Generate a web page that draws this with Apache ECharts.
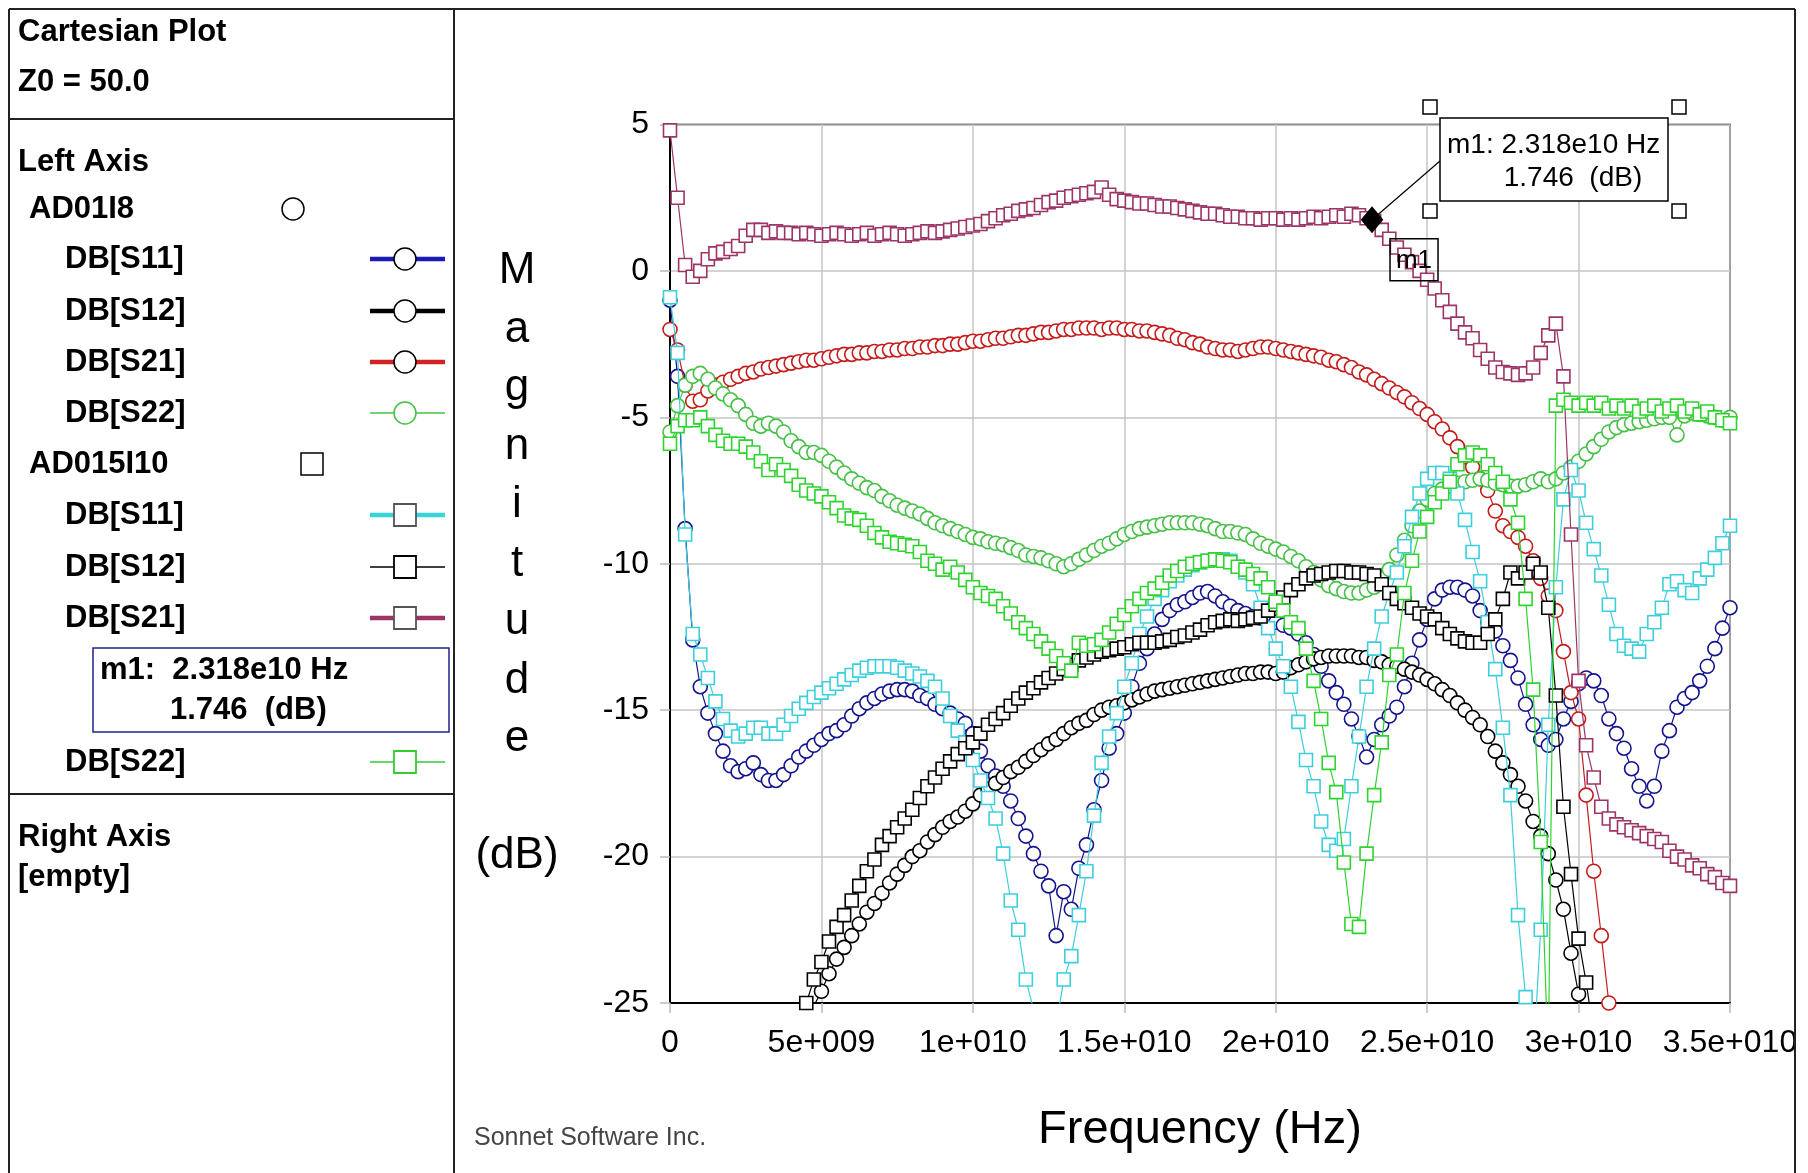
<!DOCTYPE html>
<html><head><meta charset="utf-8">
<script src="https://cdn.jsdelivr.net/npm/echarts@6/dist/echarts.min.js"></script>
<style>html,body{margin:0;padding:0;background:#fff;}#c{width:1808px;height:1173px;}</style>
</head><body><div id="c"></div>
<script>
// ---------------- DATA ----------------
const FREQ_GHZ = [
0,0.25,0.5,0.75,1,1.25,1.5,1.75,2,2.25,2.5,2.75,3,3.25,3.5,3.75,4,4.25,4.5,4.75,
5,5.25,5.5,5.75,6,6.25,6.5,6.75,7,7.25,7.5,7.75,8,8.25,8.5,8.75,9,9.25,9.5,9.75,
10,10.25,10.5,10.75,11,11.25,11.5,11.75,12,12.25,12.5,12.75,13,13.25,13.5,13.75,14,14.25,14.5,14.75,
15,15.25,15.5,15.75,16,16.25,16.5,16.75,17,17.25,17.5,17.75,18,18.25,18.5,18.75,19,19.25,19.5,19.75,
20,20.25,20.5,20.75,21,21.25,21.5,21.75,22,22.25,22.5,22.75,23,23.25,23.5,23.75,24,24.25,24.5,24.75,
25,25.25,25.5,25.75,26,26.25,26.5,26.75,27,27.25,27.5,27.75,28,28.25,28.5,28.75,29,29.25,29.5,29.75,
30,30.25,30.5,30.75,31,31.25,31.5,31.75,32,32.25,32.5,32.75,33,33.25,33.5,33.75,34,34.25,34.5,34.75,
35];

// AD01I8 (circles)
const AD01I8_S11 = [
-1.0,-3.6,-8.8,-12.6,-14.2,-15.1,-15.8,-16.4,-16.9,-17.1,-17.0,-16.8,-17.2,-17.4,-17.4,-17.2,-16.9,-16.6,-16.4,-16.2,
-16.0,-15.8,-15.7,-15.5,-15.2,-14.95,-14.75,-14.6,-14.45,-14.35,-14.3,-14.3,-14.35,-14.5,-14.6,-14.8,-14.95,-15.1,-15.3,-15.45,
-15.8,-16.4,-16.9,-17.25,-17.6,-18.1,-18.7,-19.3,-19.9,-20.5,-21.0,-22.7,-21.2,-21.8,-20.4,-19.6,-18.4,-17.4,-16.3,-15.8,
-15.1,-14.2,-13.4,-12.9,-12.4,-11.9,-11.6,-11.4,-11.3,-11.15,-11.0,-10.95,-11.1,-11.3,-11.45,-11.6,-11.7,-11.8,-11.85,-11.95,
-12.0,-12.1,-12.2,-12.4,-12.7,-13.1,-13.5,-14.0,-14.4,-14.8,-15.3,-15.9,-16.6,-16.0,-15.5,-15.2,-14.9,-14.2,-13.4,-12.6,
-11.9,-11.2,-10.9,-10.8,-10.8,-10.9,-11.1,-11.6,-12.0,-12.3,-12.8,-13.3,-13.9,-14.8,-15.5,-16.0,-16.2,-16.0,-15.3,-14.7,
-14.1,-13.9,-14.0,-14.5,-15.3,-15.8,-16.3,-17.0,-17.6,-18.1,-17.6,-16.4,-15.7,-14.9,-14.6,-14.4,-14.0,-13.5,-12.9,-12.2,
-11.5];
const AD01I8_S12 = [
null,null,null,null,null,null,null,null,null,null,null,null,null,null,null,null,null,-26.6,-25.8,-25.1,
-24.6,-24.0,-23.5,-23.1,-22.7,-22.3,-21.9,-21.6,-21.25,-20.9,-20.6,-20.3,-20.0,-19.8,-19.5,-19.25,-19.0,-18.8,-18.65,-18.45,
-18.2,-17.9,-17.7,-17.5,-17.3,-17.1,-16.95,-16.75,-16.55,-16.35,-16.15,-16.0,-15.8,-15.6,-15.45,-15.35,-15.15,-15.0,-14.9,-14.85,
-14.75,-14.65,-14.55,-14.45,-14.35,-14.3,-14.25,-14.2,-14.15,-14.1,-14.05,-14.0,-13.95,-13.9,-13.85,-13.8,-13.75,-13.75,-13.7,-13.7,
-13.75,-13.7,-13.55,-13.45,-13.35,-13.25,-13.2,-13.15,-13.15,-13.15,-13.15,-13.2,-13.2,-13.3,-13.35,-13.45,-13.5,-13.6,-13.7,-13.8,
-13.95,-14.1,-14.3,-14.5,-14.75,-15.0,-15.25,-15.5,-15.9,-16.4,-16.8,-17.2,-17.6,-18.1,-18.8,-19.3,-19.9,-20.8,-21.8,-23.3,
-24.7,-26.0,-27.5,null,null,null,null,null,null,null,null,null,null,null,null,null,null,null,null,null,
null];
const AD01I8_S21 = [
-2.0,-2.7,-3.9,-4.45,-4.4,-4.1,-3.9,-3.8,-3.7,-3.6,-3.5,-3.45,-3.35,-3.3,-3.25,-3.2,-3.15,-3.1,-3.05,-3.05,
-3.0,-2.95,-2.9,-2.85,-2.85,-2.8,-2.8,-2.75,-2.75,-2.7,-2.7,-2.65,-2.65,-2.6,-2.6,-2.55,-2.55,-2.5,-2.5,-2.45,
-2.4,-2.4,-2.35,-2.3,-2.3,-2.25,-2.2,-2.2,-2.15,-2.1,-2.1,-2.05,-2.0,-2.0,-1.95,-1.95,-1.95,-2.0,-1.95,-1.95,
-2.0,-2.0,-2.05,-2.05,-2.1,-2.15,-2.2,-2.3,-2.35,-2.45,-2.5,-2.6,-2.65,-2.7,-2.7,-2.75,-2.7,-2.65,-2.6,-2.6,
-2.65,-2.7,-2.75,-2.8,-2.85,-2.9,-2.95,-3.05,-3.1,-3.2,-3.3,-3.45,-3.55,-3.7,-3.85,-4.0,-4.15,-4.3,-4.5,-4.7,
-4.9,-5.15,-5.4,-5.7,-6.0,-6.35,-6.7,-7.1,-7.5,-8.2,-8.7,-8.9,-9.1,-9.4,-9.9,-10.5,-11.1,-11.6,-13.0,-14.4,
-15.3,-17.9,-20.5,-22.7,-25.0,-26.5,-28.0,null,null,null,null,null,null,null,null,null,null,null,null,null,
null];
const AD01I8_S22 = [
-5.5,-4.6,-3.9,-3.6,-3.5,-3.7,-4.0,-4.2,-4.4,-4.6,-4.9,-5.2,-5.3,-5.2,-5.3,-5.5,-5.8,-6.0,-6.2,-6.2,
-6.3,-6.5,-6.7,-6.9,-7.1,-7.25,-7.4,-7.5,-7.7,-7.85,-8.0,-8.1,-8.2,-8.3,-8.45,-8.6,-8.7,-8.8,-8.9,-9.0,
-9.1,-9.15,-9.25,-9.3,-9.35,-9.45,-9.55,-9.7,-9.75,-9.8,-9.9,-10.0,-10.1,-10.0,-9.85,-9.7,-9.55,-9.4,-9.3,-9.15,
-9.0,-8.9,-8.8,-8.75,-8.7,-8.65,-8.6,-8.6,-8.6,-8.6,-8.65,-8.7,-8.8,-8.9,-8.9,-8.95,-9.0,-9.15,-9.3,-9.4,
-9.5,-9.6,-9.75,-9.9,-10.1,-10.3,-10.55,-10.75,-10.85,-10.95,-11.0,-11.0,-10.9,-10.8,-10.5,-10.2,-9.7,-9.2,-8.7,-8.2,
-7.8,-7.6,-7.45,-7.35,-7.25,-7.2,-7.15,-7.1,-7.15,-7.25,-7.3,-7.35,-7.35,-7.3,-7.2,-7.1,-7.2,-7.1,-6.9,-6.7,
-6.5,-6.25,-6.0,-5.75,-5.5,-5.35,-5.25,-5.2,-5.15,-5.1,-5.05,-5.0,-5.0,-5.6,-4.95,-4.85,-4.9,-4.95,-5.0,-5.1,
-5.0];

// AD015I10 (squares)
const AD015I10_S11 = [
-0.9,-2.8,-9.0,-12.4,-13.1,-13.9,-14.7,-15.3,-15.7,-15.9,-15.8,-15.6,-15.6,-15.8,-15.8,-15.5,-15.2,-14.95,-14.75,-14.55,
-14.4,-14.25,-14.1,-13.95,-13.8,-13.65,-13.55,-13.5,-13.5,-13.5,-13.55,-13.65,-13.75,-13.85,-14.0,-14.2,-14.6,-15.2,-15.7,-16.1,
-16.7,-17.4,-18.0,-18.7,-19.9,-21.5,-22.5,-24.2,-25.2,-26.5,-27.5,-25.8,-24.2,-23.4,-22.0,-20.5,-18.6,-16.8,-15.9,-15.1,
-14.2,-13.4,-12.4,-11.8,-11.2,-10.9,-10.6,-10.4,-10.2,-10.05,-9.95,-9.9,-9.85,-9.85,-9.9,-10.1,-10.3,-10.7,-11.5,-12.2,
-12.9,-13.5,-14.2,-15.4,-16.7,-17.6,-18.8,-19.6,-19.8,-19.4,-17.6,-15.9,-14.2,-12.9,-11.8,-11.0,-10.3,-9.4,-8.4,-7.6,
-7.1,-6.9,-6.9,-7.1,-7.6,-8.5,-9.6,-10.6,-12.0,-13.6,-15.6,-17.9,-22.0,-24.8,-27.0,-22.5,-15.5,-10.8,-7.8,-6.8,
-7.5,-8.6,-9.5,-10.4,-11.4,-12.4,-12.8,-12.9,-13.0,-12.4,-12.0,-11.5,-10.7,-10.6,-10.9,-11.0,-10.5,-10.2,-9.8,-9.3,
-8.7];
const AD015I10_S12 = [
null,null,null,null,null,null,null,null,null,null,null,null,null,null,null,null,-26.5,-25.7,-25.0,-24.2,
-23.6,-22.9,-22.4,-22.0,-21.5,-21.0,-20.5,-20.1,-19.6,-19.3,-19.0,-18.7,-18.4,-18.0,-17.6,-17.3,-17.0,-16.75,-16.5,-16.3,
-16.1,-15.8,-15.5,-15.3,-15.1,-14.85,-14.6,-14.4,-14.25,-14.05,-13.9,-13.75,-13.6,-13.45,-13.3,-13.2,-13.1,-13.0,-12.95,-12.9,
-12.85,-12.75,-12.7,-12.7,-12.7,-12.65,-12.6,-12.5,-12.45,-12.35,-12.25,-12.1,-12.0,-11.95,-11.9,-11.95,-11.9,-11.85,-11.8,-11.6,
-11.4,-11.15,-10.9,-10.7,-10.5,-10.4,-10.35,-10.3,-10.25,-10.25,-10.3,-10.3,-10.35,-10.4,-10.7,-11.0,-11.2,-11.35,-11.5,-11.7,
-11.8,-11.9,-12.2,-12.4,-12.55,-12.65,-12.7,-12.7,-12.4,-11.9,-11.2,-10.3,-10.5,-10.3,-10.0,-10.3,-11.5,-14.5,-18.3,-20.6,
-22.8,-24.3,-26.0,-27.5,null,null,null,null,null,null,null,null,null,null,null,null,null,null,null,null,
null];
const AD015I10_S21 = [
4.8,2.5,0.2,-0.2,0.0,0.4,0.6,0.65,0.75,0.85,1.2,1.4,1.4,1.3,1.35,1.3,1.3,1.25,1.3,1.25,
1.2,1.25,1.3,1.25,1.2,1.25,1.3,1.2,1.25,1.3,1.25,1.2,1.25,1.3,1.35,1.3,1.35,1.4,1.45,1.5,
1.55,1.6,1.7,1.8,1.9,1.95,2.05,2.1,2.15,2.25,2.35,2.4,2.5,2.55,2.6,2.65,2.7,2.85,2.6,2.45,
2.4,2.35,2.3,2.3,2.25,2.2,2.2,2.15,2.1,2.05,2.0,1.95,1.95,1.9,1.85,1.85,1.8,1.8,1.75,1.8,
1.8,1.75,1.8,1.75,1.8,1.85,1.8,1.85,1.9,1.85,1.95,1.9,1.8,1.7,1.4,1.1,0.8,0.55,0.3,0.0,
-0.3,-0.6,-1.0,-1.4,-1.8,-2.1,-2.3,-2.7,-3.0,-3.3,-3.45,-3.5,-3.55,-3.5,-3.3,-2.8,-2.2,-1.8,-3.6,-9.0,
-14.0,-16.2,-17.3,-18.3,-18.7,-18.9,-19.0,-19.1,-19.2,-19.3,-19.4,-19.5,-19.8,-20.0,-20.1,-20.3,-20.4,-20.6,-20.7,-20.9,
-21.0];
const AD015I10_S22 = [
-5.9,-5.3,-5.1,-5.1,-5.0,-5.3,-5.6,-5.8,-5.9,-5.9,-6.0,-6.2,-6.5,-6.8,-6.6,-6.8,-7.0,-7.3,-7.5,-7.6,
-7.7,-7.9,-8.1,-8.35,-8.45,-8.5,-8.7,-8.95,-9.1,-9.25,-9.3,-9.35,-9.4,-9.6,-9.9,-10.0,-10.2,-10.1,-10.3,-10.55,
-10.8,-11.0,-11.1,-11.2,-11.45,-11.7,-12.0,-12.2,-12.4,-12.65,-12.9,-13.15,-13.4,-13.65,-12.7,-12.8,-12.75,-12.6,-12.35,-12.05,
-11.75,-11.45,-11.2,-11.0,-10.85,-10.65,-10.4,-10.25,-10.1,-10.0,-9.95,-9.9,-9.85,-9.9,-9.95,-10.1,-10.2,-10.35,-10.5,-10.8,
-11.3,-11.6,-12.0,-12.2,-12.9,-14.0,-15.3,-16.8,-17.8,-20.2,-22.3,-22.4,-19.9,-17.9,-16.1,-13.8,-13.1,-11.0,-9.9,-8.9,
-8.4,-7.9,-7.6,-7.2,-6.6,-6.3,-6.2,-6.3,-6.6,-6.9,-7.2,-7.8,-8.6,-11.2,-14.3,-19.5,-27.0,-4.6,-4.4,-4.5,
-4.6,-4.5,-4.6,-4.5,-4.7,-4.6,-4.7,-4.6,-4.8,-4.7,-4.6,-4.8,-4.7,-4.6,-4.8,-4.7,-4.9,-4.8,-5.0,-5.1,
-5.2];

const FILES = ['AD01I8', 'AD015I10'];
const PARAMS = ['DB[S11]', 'DB[S12]', 'DB[S21]', 'DB[S22]'];
const X_TICK_LABELS = ['0', '5e+009', '1e+010', '1.5e+010', '2e+010', '2.5e+010', '3e+010', '3.5e+010'];
const MARKER = { freqGHz: 23.18, valueDb: 1.746, label: 'm1', line1: 'm1: 2.318e10 Hz', line2: '1.746  (dB)', line1L: 'm1:  2.318e10 Hz' };

// ---------------- STYLE ----------------
const FONT = '"Liberation Sans", Arial, sans-serif';
const SERIES_DEF = [
  { file: 0, param: 0, data: AD01I8_S11, color: '#14148f', legendColor: '#1a1ab4', thick: true, symbol: 'circle' },
  { file: 0, param: 1, data: AD01I8_S12, color: '#000000', legendColor: '#000000', thick: true, symbol: 'circle' },
  { file: 0, param: 2, data: AD01I8_S21, color: '#c41c1c', legendColor: '#d02424', thick: true, symbol: 'circle' },
  { file: 0, param: 3, data: AD01I8_S22, color: '#46c046', legendColor: '#44c044', thick: false, symbol: 'circle' },
  { file: 1, param: 0, data: AD015I10_S11, color: '#3ccfdc', legendColor: '#38d4d8', thick: true, symbol: 'rect' },
  { file: 1, param: 1, data: AD015I10_S12, color: '#000000', legendColor: '#000000', thick: false, symbol: 'rect' },
  { file: 1, param: 2, data: AD015I10_S21, color: '#9c3466', legendColor: '#9c3466', thick: true, symbol: 'rect' },
  { file: 1, param: 3, data: AD015I10_S22, color: '#2ed42e', legendColor: '#33cc33', thick: false, symbol: 'rect' }
];

const chart = echarts.init(document.getElementById('c'), null, { renderer: 'canvas' });

const series = SERIES_DEF.map(function (d, k) {
  const s = {
    type: 'line',
    name: FILES[d.file] + ' ' + PARAMS[d.param],
    data: FREQ_GHZ.map(function (f, i) { const v = d.data[i]; return [f, (v === null || v === undefined) ? '-' : v]; }),
    symbol: d.symbol,
    symbolSize: d.symbol === 'circle' ? 14 : 13,
    showSymbol: true,
    showAllSymbol: true,
    clip: true,
    connectNulls: false,
    lineStyle: { color: d.color, width: 1.2 },
    itemStyle: { color: '#ffffff', borderColor: d.color, borderWidth: 1.6 },
    emphasis: { disabled: true },
    z: 2 + k * 0.01
  };
  if (d.file === 1 && d.param === 2) {
    s.markPoint = {
      silent: true,
      symbol: 'diamond',
      symbolSize: [20, 24],
      itemStyle: { color: '#000', borderColor: '#000' },
      label: { show: false },
      data: [{ coord: [MARKER.freqGHz, MARKER.valueDb] }]
    };
  }
  return s;
});

const option = {
  animation: false,
  backgroundColor: '#ffffff',
  grid: { left: 670, right: 78, top: 124.5, bottom: 170, show: true, borderColor: '#000', borderWidth: 1.5, backgroundColor: 'transparent' },
  xAxis: {
    type: 'value', min: 0, max: 35, interval: 5,
    axisLine: { show: true, onZero: false, lineStyle: { color: '#000', width: 2 } },
    axisTick: { show: true, length: 10, lineStyle: { color: '#bbbbbb', width: 1.5 } },
    splitLine: { show: true, lineStyle: { color: '#c4c4c4', width: 1.5 } },
    axisLabel: { margin: 24, fontSize: 32, color: '#000', fontFamily: FONT,
      formatter: function (v) { return X_TICK_LABELS[Math.round(v / 5)]; } },
    name: 'Frequency (Hz)', nameLocation: 'middle', nameGap: 127,
    nameTextStyle: { fontSize: 47, color: '#000', fontFamily: FONT, verticalAlign: 'middle' }
  },
  yAxis: {
    type: 'value', min: -25, max: 5, interval: 5,
    axisLine: { show: true, onZero: false, lineStyle: { color: '#000', width: 2 } },
    axisTick: { show: true, length: 10, lineStyle: { color: '#bbbbbb', width: 1.5 } },
    splitLine: { show: true, lineStyle: { color: '#c4c4c4', width: 1.5 } },
    axisLabel: { margin: 21, fontSize: 32, color: '#000', fontFamily: FONT },
    name: 'Magnitude'.split('').join('\n') + '\n\n(dB)',
    nameLocation: 'middle', nameRotate: 0, nameGap: 153,
    nameTextStyle: { fontSize: 44, lineHeight: 58.5, color: '#000', fontFamily: FONT, align: 'center', verticalAlign: 'middle' }
  },
  series: series
};
chart.setOption(option);

// ---------------- PANEL / ANNOTATION GRAPHICS ----------------
const BOLD = 'bold 31px ' + FONT;
function txt(x, y, s, font, align, fill) {
  return { type: 'text', x: x, y: y, z: 120, silent: true,
    style: { text: s, font: font, fill: fill || '#000', textAlign: align || 'left', textVerticalAlign: 'middle', align: align || 'left', verticalAlign: 'middle' } };
}
function line(x1, y1, x2, y2, color, w, z) {
  return { type: 'line', z: z || 120, silent: true, shape: { x1: x1, y1: y1, x2: x2, y2: y2 }, style: { stroke: color, lineWidth: w } };
}
function rect(x, y, w, h, fill, stroke, lw, z) {
  return { type: 'rect', z: z || 120, silent: true, shape: { x: x, y: y, width: w, height: h }, style: { fill: fill, stroke: stroke, lineWidth: lw } };
}
function circ(cx, cy, r, fill, stroke, lw) {
  return { type: 'circle', z: 121, silent: true, shape: { cx: cx, cy: cy, r: r }, style: { fill: fill, stroke: stroke, lineWidth: lw } };
}

const g = [];
// frames
g.push(rect(1796, 0, 12, 1173, '#fff', null, 0, 110));
g.push(line(9, 9, 1795, 9, '#222', 2));
g.push(line(9, 9, 9, 1173, '#222', 2));
g.push(line(454, 9, 454, 1173, '#222', 2));
g.push(line(1795, 9, 1795, 1173, '#222', 2));
g.push(line(9, 119, 454, 119, '#222', 2));
g.push(line(9, 794, 454, 794, '#222', 2));

// left panel texts
g.push(txt(18, 32, 'Cartesian Plot', BOLD));
g.push(txt(18, 82, 'Z0 = 50.0', BOLD));
g.push(txt(18, 162, 'Left Axis', BOLD));
g.push(txt(29, 209, FILES[0], BOLD));
g.push(circ(293, 209, 11, '#fff', '#000', 1.5));
g.push(txt(29, 464, FILES[1], BOLD));
g.push(rect(301, 453, 22, 22, '#fff', '#000', 1.5, 121));
g.push(txt(18, 837, 'Right Axis', BOLD));
g.push(txt(18, 877, '[empty]', BOLD));

const LEG_Y = [[259, 311, 362, 413], [515, 567, 618, 762]];
SERIES_DEF.forEach(function (d) {
  const y = LEG_Y[d.file][d.param];
  g.push(txt(65, y, PARAMS[d.param], BOLD));
  g.push(line(370, y, 445, y, d.legendColor, d.thick ? 4.5 : 1.6));
  if (d.symbol === 'circle') g.push(circ(405, y, 11, '#fff', d.thick ? '#000' : d.legendColor, 1.5));
  else g.push(rect(394, y - 11, 22, 22, '#fff', d.thick ? '#555' : d.legendColor, 1.8, 121));
});
// marker readout box in the panel
g.push(rect(93, 648, 356, 84, 'transparent', '#22228a', 1.5));
g.push(txt(100, 670, MARKER.line1L, BOLD));
g.push(txt(170, 710, MARKER.line2, BOLD));

// credit
g.push(txt(474, 1138, 'Sonnet Software Inc.', '25px ' + FONT, 'left', '#454545'));

// marker annotation on the plot
const p = chart.convertToPixel({ gridIndex: 0 }, [MARKER.freqGHz, MARKER.valueDb]);
const BX = 1440, BY = 118, BW = 228, BH = 83;
g.push(line(p[0], p[1], BX, BY + 43, '#000', 1.2, 115));
g.push(rect(BX, BY, BW, BH, '#fff', '#000', 1.5, 116));
[[BX - 10, BY - 11], [BX + BW + 11, BY - 11], [BX - 10, BY + BH + 10], [BX + BW + 11, BY + BH + 10]].forEach(function (c) {
  g.push(rect(c[0] - 7, c[1] - 7, 14, 14, '#fff', '#000', 1.5, 117));
});
g.push(txt(BX + 7, BY + 27, MARKER.line1, '28px ' + FONT, 'left'));
g.push(txt(BX + 133, BY + 60, MARKER.line2, '28px ' + FONT, 'center'));
// small "m1" tag next to the marker
g.push(rect(p[0] + 18, p[1] + 19, 48, 42, 'transparent', '#000', 1.5, 116));
g.push(txt(p[0] + 42, p[1] + 41, MARKER.label, '26px ' + FONT, 'center'));

chart.setOption({ graphic: { elements: g } });
</script>
</body></html>
